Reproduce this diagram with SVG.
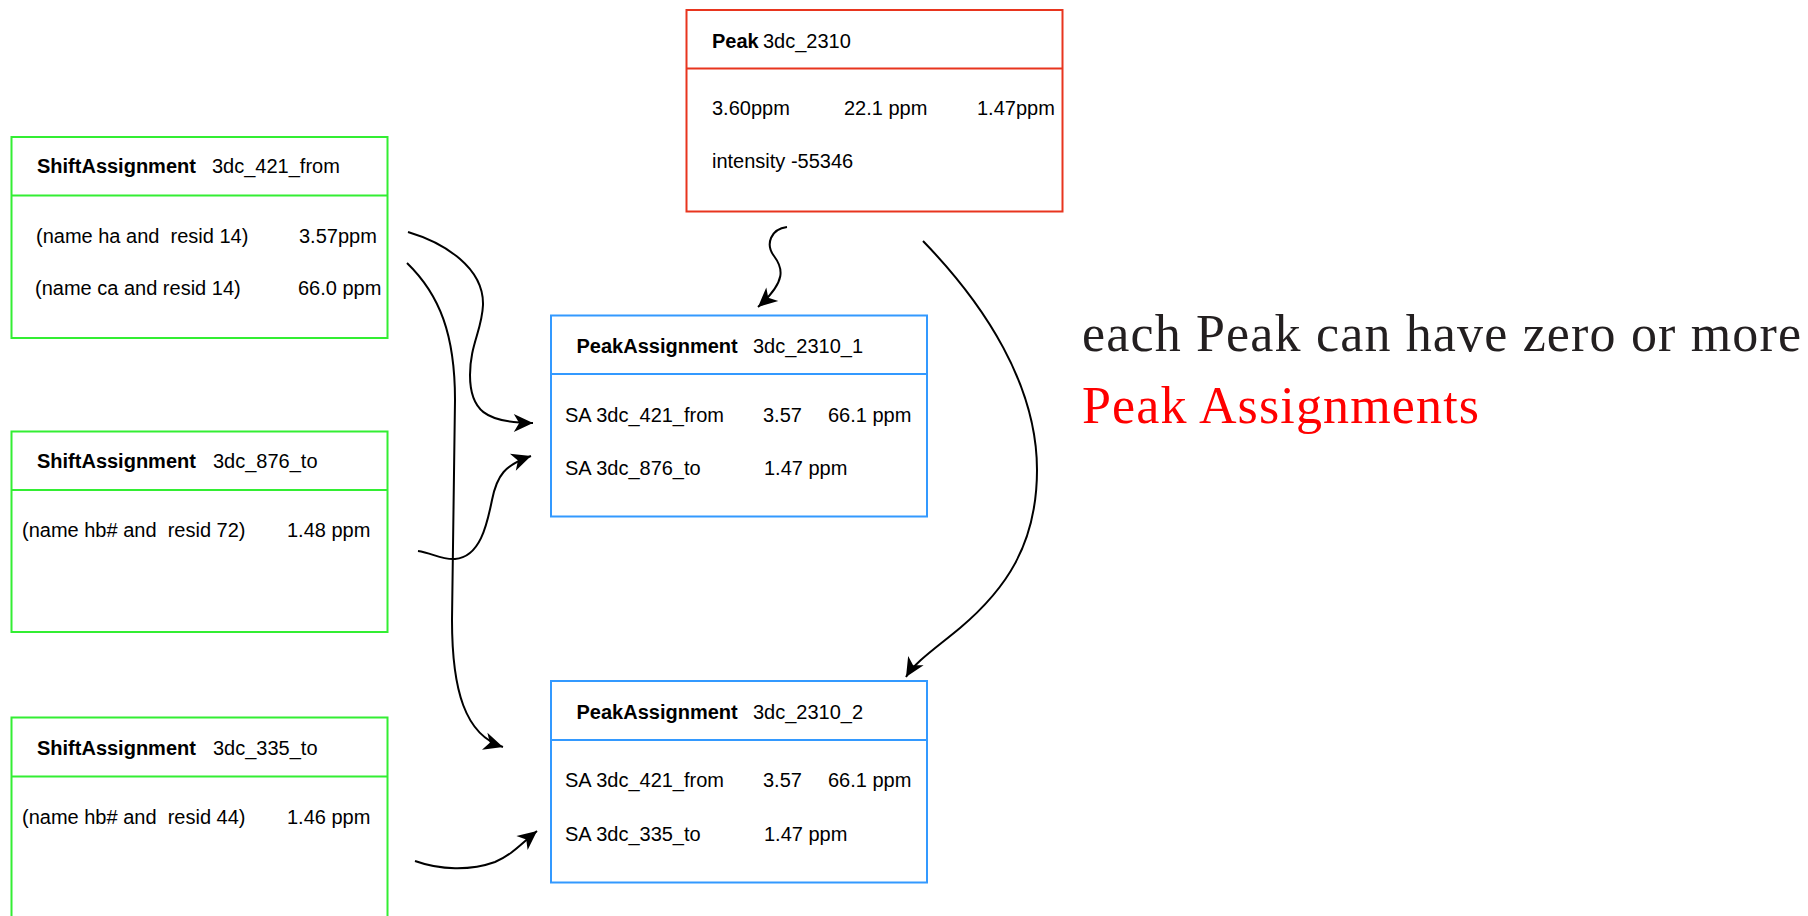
<svg xmlns="http://www.w3.org/2000/svg" width="1808" height="916" viewBox="0 0 1808 916">
  <style>
    .box { fill: #ffffff; stroke-width: 2; }
    .shift { stroke: #33ee33; }
    .peak { stroke: #e8351e; }
    .assign { stroke: #3399ff; }
    .t { font-family: "Liberation Sans", Arial, sans-serif; font-size: 20px; fill: #000000; white-space: pre; }
    .b { font-weight: bold; }
    .link { fill: none; stroke: #000000; stroke-width: 2; marker-end: url(#arrow); }
    .note { font-family: "Liberation Serif", "Times New Roman", serif; font-size: 52px; }
  </style>
  <defs>
    <marker id="arrow" markerUnits="userSpaceOnUse" markerWidth="24" markerHeight="24" viewBox="-18 -9 20 18" refX="0" refY="0" orient="auto">
      <path d="M0,0 L-16,-7.5 L-11.5,0 L-16,7.5 Z" fill="#000000"/>
    </marker>
  </defs>

  <rect width="1808" height="916" fill="#ffffff"/>

  <!-- connectors -->
  <g id="connectors">
    <path class="link" d="M787,227 C771,229 765,244 774,256 C783,268 787,281 758,307"/>
    <path class="link" d="M923,241 C985,305 1037,385 1037,470 C1037,545 1005,590 960,628 C936,648 915,662 906,677"/>
    <path class="link" d="M408,232 C445,243 484,268 483,305 C482,330 470,345 470,375 C470,410 485,423 533,423"/>
    <path class="link" d="M407,263 C440,295 455,335 455,400 L452,620 C452,690 465,735 503,747"/>
    <path class="link" d="M418,551 C432,553 442,560 455,559 C480,557 487,525 492,500 C497,475 505,465 531,456"/>
    <path class="link" d="M415,861 C440,870 470,871 495,862 C512,855 522,843 537,831"/>
  </g>

  <!-- shift assignment 3dc_421_from -->
  <g id="shift-421-from">
    <rect class="box shift" x="11.5" y="137" width="376" height="201"/>
    <line class="shift" x1="11.5" y1="195.5" x2="387.5" y2="195.5" stroke-width="2"/>
    <text class="t b" x="37" y="173">ShiftAssignment</text>
    <text class="t" x="212" y="173">3dc_421_from</text>
    <text class="t" x="36" y="243">(name ha and  resid 14)</text>
    <text class="t" x="299" y="243">3.57ppm</text>
    <text class="t" x="35" y="295">(name ca and resid 14)</text>
    <text class="t" x="298" y="295">66.0 ppm</text>
  </g>

  <!-- shift assignment 3dc_876_to -->
  <g id="shift-876-to">
    <rect class="box shift" x="11.5" y="431.5" width="376" height="200.5"/>
    <line class="shift" x1="11.5" y1="490" x2="387.5" y2="490" stroke-width="2"/>
    <text class="t b" x="37" y="468">ShiftAssignment</text>
    <text class="t" x="213" y="468">3dc_876_to</text>
    <text class="t" x="22" y="537">(name hb# and  resid 72)</text>
    <text class="t" x="287" y="537">1.48 ppm</text>
  </g>

  <!-- shift assignment 3dc_335_to -->
  <g id="shift-335-to">
    <rect class="box shift" x="11.5" y="717.5" width="376" height="205"/>
    <line class="shift" x1="11.5" y1="776.5" x2="387.5" y2="776.5" stroke-width="2"/>
    <text class="t b" x="37" y="755">ShiftAssignment</text>
    <text class="t" x="213" y="755">3dc_335_to</text>
    <text class="t" x="22" y="824">(name hb# and  resid 44)</text>
    <text class="t" x="287" y="824">1.46 ppm</text>
  </g>

  <!-- peak 3dc_2310 -->
  <g id="peak-2310">
    <rect class="box peak" x="686.5" y="10" width="376" height="201.5"/>
    <line class="peak" x1="686.5" y1="68.5" x2="1062.5" y2="68.5" stroke-width="2"/>
    <text class="t b" x="712" y="48">Peak</text>
    <text class="t" x="763" y="48">3dc_2310</text>
    <text class="t" x="712" y="115">3.60ppm</text>
    <text class="t" x="844" y="115">22.1 ppm</text>
    <text class="t" x="977" y="115">1.47ppm</text>
    <text class="t" x="712" y="168">intensity -55346</text>
  </g>

  <!-- peak assignment 3dc_2310_1 -->
  <g id="peak-assignment-1">
    <rect class="box assign" x="551" y="315.5" width="376" height="201"/>
    <line class="assign" x1="551" y1="374" x2="927" y2="374" stroke-width="2"/>
    <text class="t b" x="576.5" y="353">PeakAssignment</text>
    <text class="t" x="753" y="353">3dc_2310_1</text>
    <text class="t" x="565" y="421.5">SA 3dc_421_from</text>
    <text class="t" x="763" y="421.5">3.57</text>
    <text class="t" x="828" y="421.5">66.1 ppm</text>
    <text class="t" x="565" y="475">SA 3dc_876_to</text>
    <text class="t" x="764" y="475">1.47 ppm</text>
  </g>

  <!-- peak assignment 3dc_2310_2 -->
  <g id="peak-assignment-2">
    <rect class="box assign" x="551" y="681" width="376" height="201.5"/>
    <line class="assign" x1="551" y1="740" x2="927" y2="740" stroke-width="2"/>
    <text class="t b" x="576.5" y="719">PeakAssignment</text>
    <text class="t" x="753" y="719">3dc_2310_2</text>
    <text class="t" x="565" y="787">SA 3dc_421_from</text>
    <text class="t" x="763" y="787">3.57</text>
    <text class="t" x="828" y="787">66.1 ppm</text>
    <text class="t" x="565" y="841">SA 3dc_335_to</text>
    <text class="t" x="764" y="841">1.47 ppm</text>
  </g>

  <!-- explanatory note -->
  <g id="note">
    <text class="note" x="1082" y="351" fill="#231f20" textLength="719" lengthAdjust="spacing">each Peak can have zero or more</text>
    <text class="note" x="1082" y="423" fill="#ff0000" textLength="397" lengthAdjust="spacing">Peak Assignments</text>
  </g>
</svg>
